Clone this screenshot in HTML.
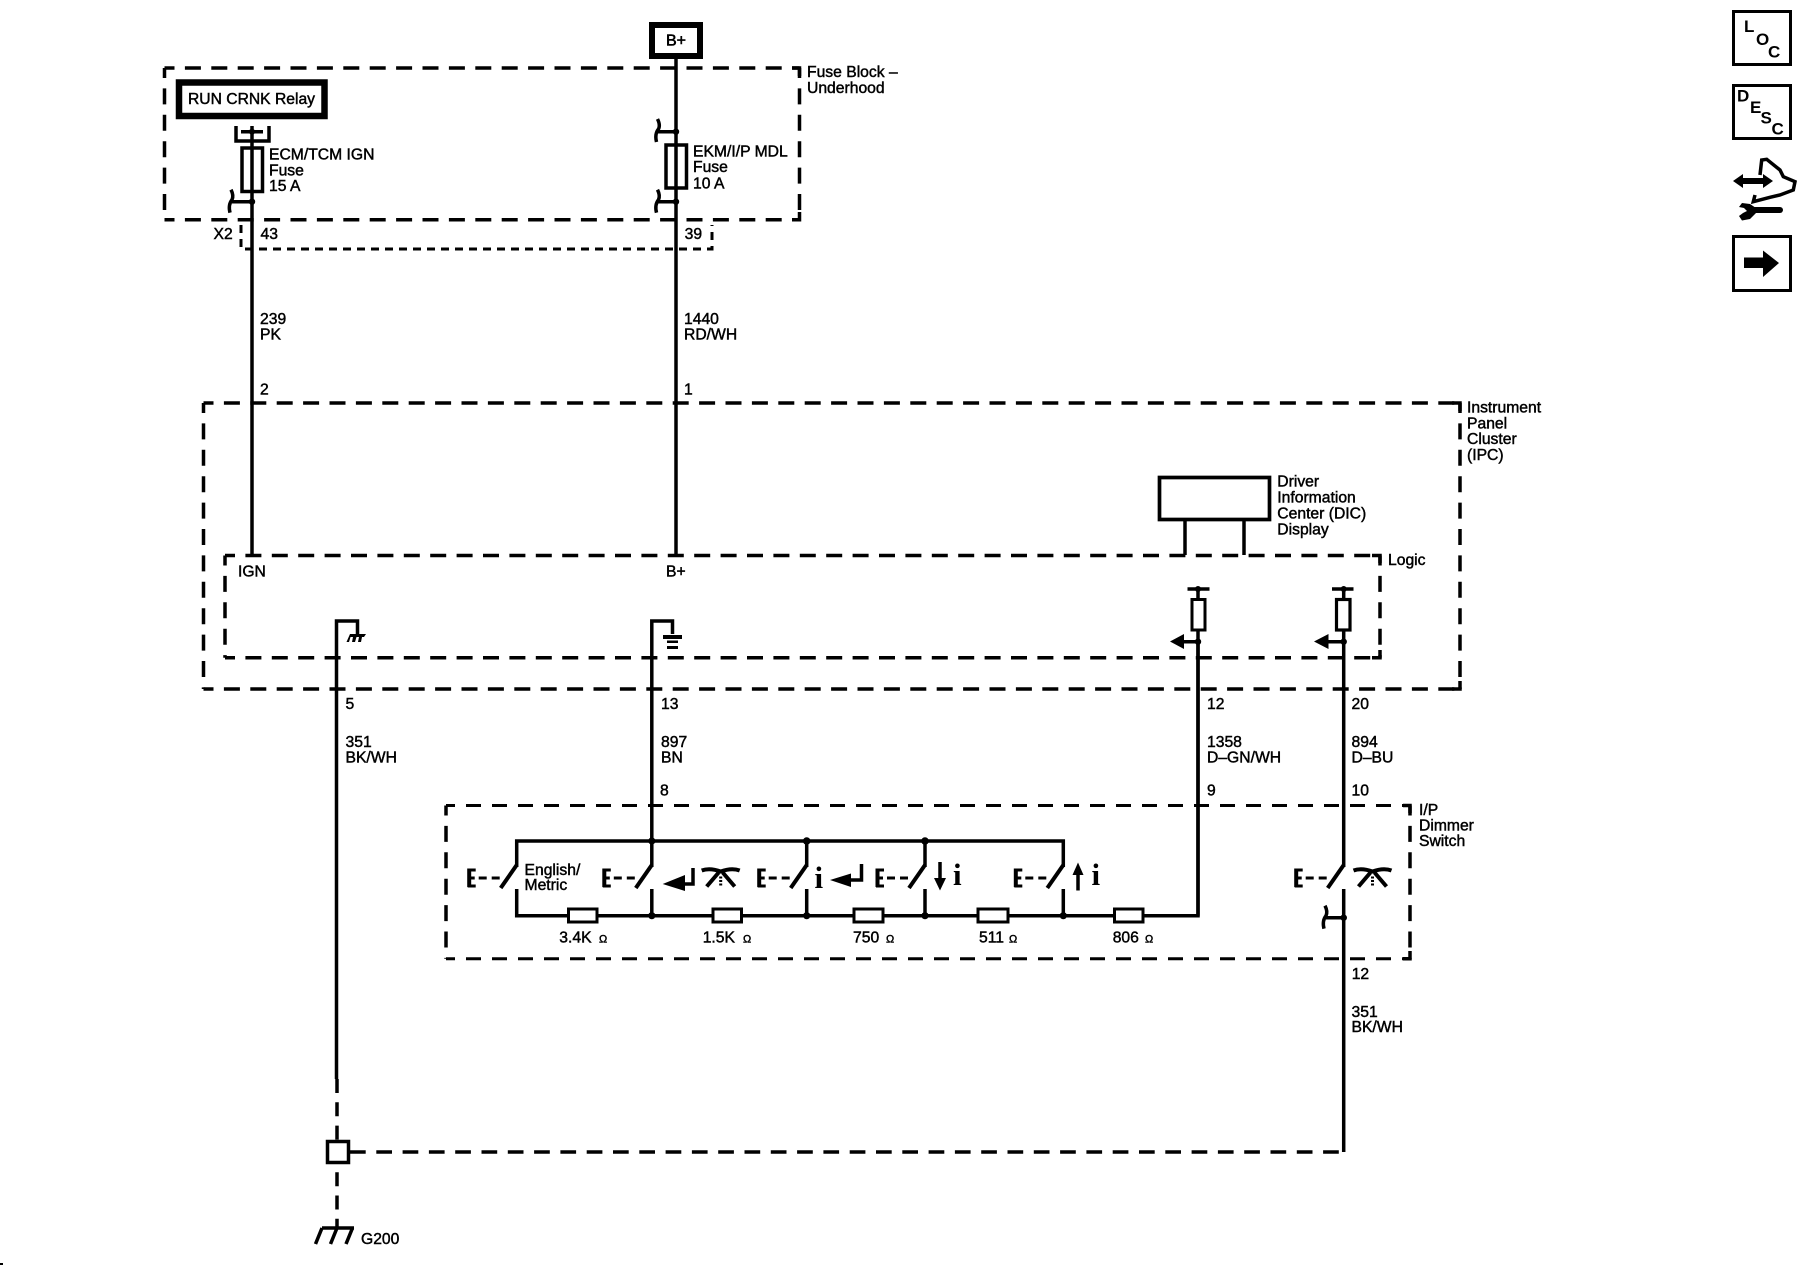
<!DOCTYPE html>
<html><head><meta charset="utf-8"><title>Diagram</title>
<style>
html,body{margin:0;padding:0;background:#fff}
svg{display:block}
text{font-family:"Liberation Sans",sans-serif;font-size:15.7px;fill:#000;stroke:#000;stroke-width:.45}
.w{fill:none;stroke:#000;stroke-width:3.5}
.d{fill:none;stroke:#000;stroke-width:3.5;stroke-dasharray:16 10.4;stroke-dashoffset:6}
.i{font-family:"Liberation Serif",serif;font-weight:bold;font-size:31px;stroke:none}
.o{font-size:11px}
.b{font-weight:bold;font-size:17px;stroke:none}
</style></head><body>
<svg width="1800" height="1280" viewBox="0 0 1800 1280" xmlns="http://www.w3.org/2000/svg">
<defs>
<g id="sw" class="w">
<path d="M-47.5 1.5V20" style="stroke-width:4"/>
<path d="M-49 3H-41M-49 11H-42M-49 19H-41" style="stroke-width:3"/>
<path d="M-38 11H-30M-25 11H-17" style="stroke-width:3"/>
<path d="M0 -2L-16 21" style="stroke-width:4"/>
</g>
<g id="lamp">
<path d="M0 0Q8-3 19 1Q30-3 38 0" class="w" style="stroke-width:4"/>
<path d="M17 2L5 16M21 2L33 16" class="w" style="stroke-width:4"/>
<path d="M19 6V15" class="w" style="stroke-width:3;stroke-dasharray:2 1.5"/>
</g>
<path id="br" d="M0 -12Q3 -6 1 -2Q-3 3 -1 11" class="w" style="stroke-width:3.5"/>
</defs>

<!-- dashed containers -->
<g>
<path class="d" d="M164.5 68H799.5"/><path class="d" d="M164.5 219.7H799.5"/>
<path class="d" d="M164.5 68V219.7"/><path class="d" d="M799.5 68V219.7"/>
<path class="d" d="M203.5 403H1460"/><path class="d" d="M203.5 689H1460"/>
<path class="d" d="M203.5 403V689"/><path class="d" d="M1460 403V689"/>
<path class="d" d="M225 555.5H1380"/><path class="d" d="M225 657.7H1380"/>
<path class="d" d="M225 555.5V657.7"/><path class="d" d="M1380 555.5V657.7"/>
<path class="d" style="stroke-width:3;stroke-dasharray:15 11" d="M446 805.5H1410"/>
<path class="d" style="stroke-width:3;stroke-dasharray:15 11" d="M446 958.7H1410"/>
<path class="d" d="M446 805.5V958.7"/><path class="d" d="M1410 805.5V958.7"/>
<path class="w" style="stroke-width:3;stroke-dasharray:8 6" d="M241 225V249H712V225"/>
<!-- corner stubs -->
<path class="w" d="M792 68H799.5V76M792 219.7H799.5V212M1452 403H1460V411M1452 689H1460V681M1372 555.5H1380V563M1372 657.7H1380V650M1403 805.5H1410V813M1403 958.7H1410V951"/>
</g>

<!-- wires -->
<path class="w" d="M252 126V148M252 192V555"/>
<path class="w" d="M676 58V145M676 188V555"/>
<path class="w" d="M357.5 634V621H336.5V1079"/>
<path class="w" style="stroke-dasharray:14 9.3" d="M337 1079V1228"/>
<path class="w" d="M672.5 634V621H651.8V841"/>
<path class="w" d="M1198 589V599M1198 630V915.7"/>
<path class="w" d="M1343.7 589V599M1343.7 630V867M1343.7 889V1152"/>
<path class="w" style="stroke-dasharray:15.7 10.6" d="M350 1152H1343"/>

<!-- B+ -->
<rect x="652" y="25" width="48" height="31" fill="#fff" stroke="#000" stroke-width="6"/>
<text x="666" y="45.7" style="font-size:16px;stroke-width:.6">B+</text>

<!-- relay -->
<rect x="179" y="82.5" width="145.5" height="33.5" fill="#fff" stroke="#000" stroke-width="6.5"/>
<text x="188" y="104" textLength="127" lengthAdjust="spacingAndGlyphs">RUN CRNK Relay</text>
<path class="w" d="M236 126V141H269V126M241 131.7H263"/>
<circle cx="252" cy="131.7" r="3"/>

<!-- fuses -->
<rect x="242" y="148" width="20.5" height="43.5" fill="#fff" stroke="#000" stroke-width="3.5"/>
<path class="w" d="M252 148V192"/>
<rect x="666" y="145" width="20.5" height="43" fill="#fff" stroke="#000" stroke-width="3.5"/>
<path class="w" d="M676 145V188"/>

<!-- stubs -->
<path class="w" d="M232 201.7H252"/><use href="#br" x="231" y="201.7"/><circle cx="252" cy="201.7" r="3.2"/>
<path class="w" d="M658 131.7H676"/><use href="#br" x="657.5" y="131"/><circle cx="676" cy="131.7" r="3.2"/>
<path class="w" d="M658 201.7H676"/><use href="#br" x="657.5" y="201.7"/><circle cx="676" cy="201.7" r="3.2"/>

<!-- fuse block labels -->
<text x="807" y="77">Fuse Block –</text><text x="807" y="93">Underhood</text>
<text x="269" y="159.5">ECM/TCM IGN</text><text x="269" y="175.5">Fuse</text><text x="269" y="191">15 A</text>
<text x="693" y="156.5">EKM/I/P MDL</text><text x="693" y="172">Fuse</text><text x="693" y="188.5">10 A</text>
<text x="213.5" y="239">X2</text><text x="260.5" y="239">43</text><text x="684.6" y="239">39</text>
<text x="260" y="324">239</text><text x="260" y="339.5">PK</text>
<text x="684" y="324">1440</text><text x="684" y="339.5">RD/WH</text>
<text x="260" y="394.5">2</text><text x="684" y="394.5">1</text>

<!-- IPC -->
<text x="1467" y="412.5">Instrument</text><text x="1467" y="428.5">Panel</text><text x="1467" y="444">Cluster</text><text x="1467" y="460">(IPC)</text>
<rect x="1159.5" y="477.5" width="110" height="42" fill="#fff" stroke="#000" stroke-width="3.7"/>
<path class="w" d="M1185 519V555M1244 519V555"/>
<text x="1277.3" y="486.7">Driver</text><text x="1277.3" y="502.7">Information</text><text x="1277.3" y="518.3">Center (DIC)</text><text x="1277.3" y="534.3">Display</text>
<text x="1388" y="565">Logic</text>
<text x="238" y="576.7">IGN</text><text x="666" y="576.7">B+</text>

<!-- grounds inside -->
<path d="M350 634H366L364 637H362L361 642H358L359 637H356.5L355 642H352L353 637H350.5L349 642H346.5Z"/>
<rect x="663" y="635" width="19" height="4"/><rect x="667" y="640.5" width="11" height="2.5"/><rect x="667" y="646" width="11" height="3"/>

<!-- logic outputs -->
<path class="w" style="stroke-width:3.5" d="M1187.5 589H1209.5M1332 589H1353.5"/>
<circle cx="1198" cy="589" r="3"/><circle cx="1343.7" cy="589" r="3"/>
<rect x="1192" y="599.5" width="13" height="30.5" fill="#fff" stroke="#000" stroke-width="3"/>
<rect x="1336.5" y="599.5" width="13.5" height="30.5" fill="#fff" stroke="#000" stroke-width="3.2"/>
<path class="w" d="M1184 641.7H1198M1328 641.7H1343.7"/>
<path d="M1170 641.5L1184 634V649ZM1314 641.5L1328.5 634V649Z"/>
<circle cx="1198" cy="641.7" r="3.2"/><circle cx="1343.7" cy="641.7" r="3.2"/>

<text x="345.5" y="709">5</text><text x="661" y="709">13</text><text x="1207" y="709">12</text><text x="1351.5" y="709">20</text>
<text x="345.5" y="747">351</text><text x="345.5" y="762.5">BK/WH</text>
<text x="661" y="747">897</text><text x="661" y="762.5">BN</text>
<text x="1207" y="747">1358</text><text x="1207" y="762.5">D–GN/WH</text>
<text x="1351.5" y="747">894</text><text x="1351.5" y="762.5">D–BU</text>
<text x="660" y="795.5">8</text><text x="1207" y="795.5">9</text><text x="1351.5" y="795.5">10</text>

<!-- switch block -->
<path class="w" d="M516.7 867V841H1063.3V867"/>
<path class="w" d="M651.8 841V867M806.7 841V867M925 841V867"/>
<path class="w" d="M516.7 889V915.7H1198V640"/>
<path class="w" d="M651.8 889V915.7M806.7 889V915.7M925 889V915.7M1063.3 889V915.7"/>
<g fill="#000">
<circle cx="651.8" cy="841" r="3.6"/><circle cx="806.7" cy="841" r="3.8"/><circle cx="925" cy="841" r="3.8"/>
<circle cx="651.8" cy="915.7" r="3.6"/><circle cx="806.7" cy="915.7" r="3.6"/><circle cx="925" cy="915.7" r="3.6"/><circle cx="1063.3" cy="915.7" r="3.6"/>
</g>
<use href="#sw" x="516.7" y="867"/><use href="#sw" x="651.8" y="867"/><use href="#sw" x="806.7" y="867"/><use href="#sw" x="925" y="867"/><use href="#sw" x="1063.3" y="867"/><use href="#sw" x="1343.7" y="867"/>

<g fill="#fff" stroke="#000" stroke-width="3">
<rect x="568.5" y="909" width="28.5" height="13"/><rect x="713" y="909" width="28.5" height="13"/><rect x="854" y="909" width="29" height="13"/><rect x="978" y="909" width="30" height="13"/><rect x="1114.5" y="909" width="28.5" height="13"/>
</g>

<text x="524.5" y="875">English/</text><text x="524.5" y="890">Metric</text>
<text x="559.3" y="942.7">3.4K</text><text class="o" x="599" y="942.7">Ω</text>
<text x="702.7" y="942.7">1.5K</text><text class="o" x="743" y="942.7">Ω</text>
<text x="853" y="942.7">750</text><text class="o" x="886" y="942.7">Ω</text>
<text x="979" y="942.7">511</text><text class="o" x="1009" y="942.7">Ω</text>
<text x="1112.7" y="942.7">806</text><text class="o" x="1145" y="942.7">Ω</text>

<!-- function icons -->
<path d="M662.7 884L685 875V891Z"/><path class="w" d="M684 884H693V868"/>
<use href="#lamp" x="701.7" y="870.5"/>
<text class="i" x="814.5" y="888">i</text>
<path d="M830 880L851 873.5V887Z"/><path class="w" d="M850 880H861.5V864"/>
<path class="w" d="M940 862V880"/><path d="M934 878H946L940 890.5Z"/>
<text class="i" x="953" y="885">i</text>
<path class="w" d="M1078 872V890.5"/><path d="M1072.5 875H1083.5L1078 862.5Z"/>
<text class="i" x="1091.5" y="885">i</text>
<use href="#lamp" x="1353.5" y="870.5"/>

<path class="w" d="M1326 917.7H1343.7"/><use href="#br" x="1325" y="917.7"/><circle cx="1343.7" cy="917.7" r="3.3"/>

<text x="1419" y="815">I/P</text><text x="1419" y="830.5">Dimmer</text><text x="1419" y="846">Switch</text>
<text x="1351.7" y="979">12</text><text x="1351.5" y="1017">351</text><text x="1351.5" y="1032">BK/WH</text>

<!-- splice and ground -->
<rect x="327.5" y="1141.5" width="21" height="21" fill="#fff" stroke="#000" stroke-width="3.5"/>
<path class="w" d="M322 1228H354M322 1228L315.5 1244M337 1228L330.5 1244M352.5 1228L346 1244"/>
<text x="361" y="1244">G200</text>

<!-- nav icons -->
<g fill="#fff" stroke="#000" stroke-width="3">
<rect x="1733.5" y="11.5" width="57" height="53"/><rect x="1733.5" y="85.5" width="57" height="53"/><rect x="1733.5" y="236.5" width="57" height="54"/>
</g>
<text class="b" x="1744" y="32">L</text><text class="b" x="1756" y="45">O</text><text class="b" x="1768" y="57.5">C</text>
<text class="b" x="1737" y="101.5">D</text><text class="b" x="1750" y="113">E</text><text class="b" x="1760.5" y="123.5">S</text><text class="b" x="1771.5" y="134.5">C</text>
<path d="M1744 257.5H1763V250.5L1779 263L1763 277V268H1744Z"/>
<path d="M1733 181L1743 174V178H1763V174L1773 181L1763 188V184H1743V188Z"/>
<path d="M1760 175L1761.7 160L1766.7 159.3L1780 170L1783.3 176.7L1795 181.7L1793.3 190L1780 195L1770 197.3L1753.3 201.7L1755 195" class="w" style="stroke-width:3.5"/>
<path d="M1752 210H1780" class="w" style="stroke-width:6;stroke-linecap:round"/>
<path d="M1742 203L1750 204L1756 208V213L1750 219L1742 220.5L1739 216L1743 213L1747 211L1744 208L1739 207Z"/>
<rect x="0" y="1263" width="3" height="2"/>
</svg>
</body></html>
